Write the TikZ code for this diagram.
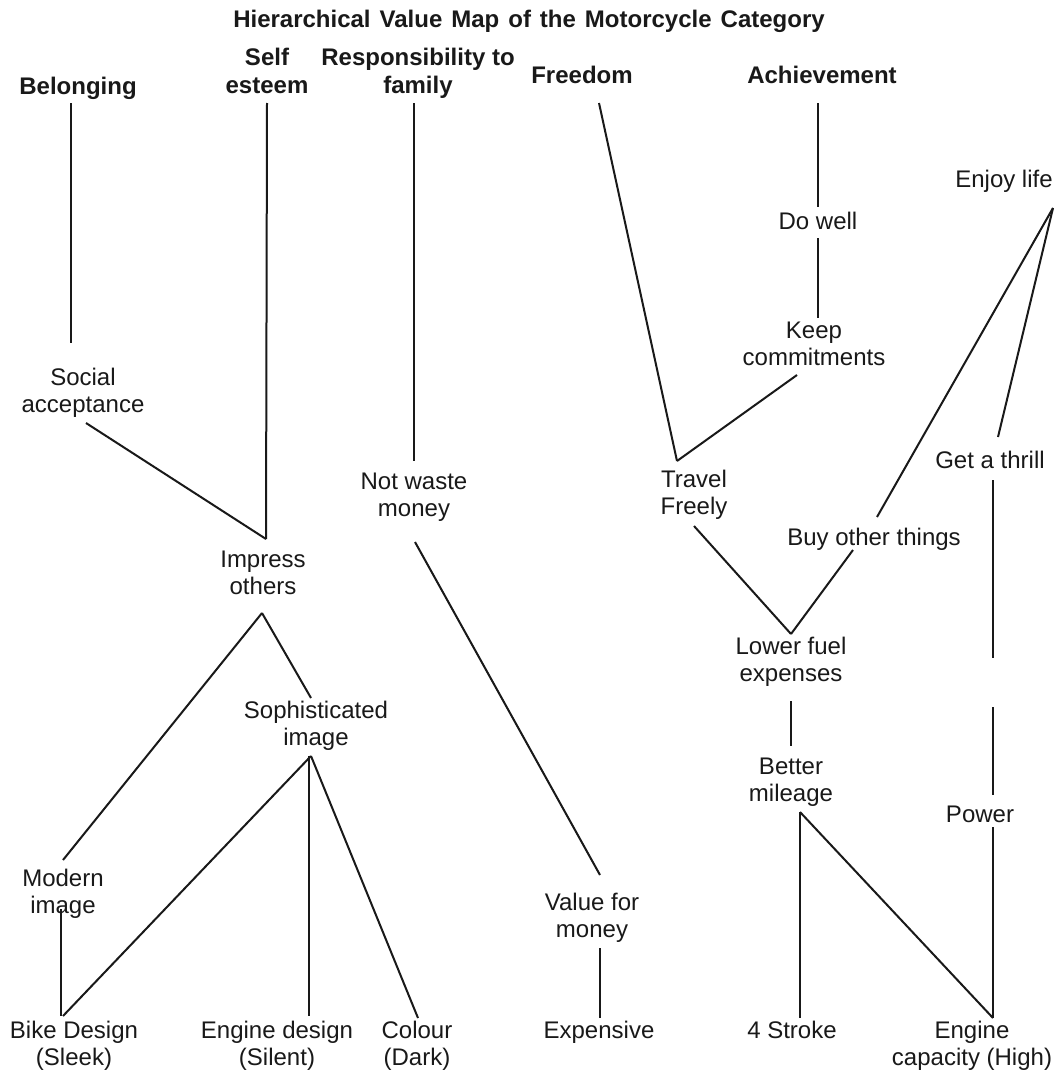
\documentclass[tikz,border=0pt]{standalone}
\usepackage{fontspec}
\setmainfont{Liberation Sans}
\begin{document}
\begin{tikzpicture}[x=1pt,y=-1pt,
  lbl/.style={anchor=base, inner sep=0pt, align=center, text=black!90,
    font=\fontsize{24}{27.5}\selectfont},
  hd/.style={lbl, font=\bfseries\fontsize{24}{28}\selectfont},
  con/.style={draw=black!90, line width=2pt}]
\useasboundingbox[fill=white] (0,0) rectangle (1060,1073);

% title
\node[hd] (title) at (529,27.5) {\spaceskip=9pt plus 1pt\relax Hierarchical Value Map of the Motorcycle Category};

% headings (values); for two-line nodes the base anchor is the last line's baseline
\node[hd] (belong) at (78,94) {Belonging};
\node[hd] (self) at (267,93.5) {Self\\esteem};
\node[hd] (resp) at (418,93.5) {Responsibility to\\family};
\node[hd] (free) at (582,83) {Freedom};
\node[hd] (ach) at (822,83) {Achievement};

% other labels
\node[lbl] (enjoy) at (1004,187) {Enjoy life};
\node[lbl] (dowell) at (818,229) {Do well};
\node[lbl] (keep) at (814,365.5) {Keep\\commitments};
\node[lbl] (social) at (83,412.5) {Social\\acceptance};
\node[lbl] (getthrill) at (990,468) {Get a thrill};
\node[lbl] (notwaste) at (414,516.5) {Not waste\\money};
\node[lbl] (travel) at (694,514.5) {Travel\\Freely};
\node[lbl] (buy) at (874,545) {Buy other things};
\node[lbl] (impress) at (263,594.5) {Impress\\others};
\node[lbl] (lowfuel) at (791,681.5) {Lower fuel\\expenses};
\node[lbl] (soph) at (316,745.5) {Sophisticated\\image};
\node[lbl] (better) at (791,801.5) {Better\\mileage};
\node[lbl] (power) at (980,822) {Power};
\node[lbl] (modern) at (63,913.5) {Modern\\image};
\node[lbl] (value) at (592,937.5) {Value for\\money};
\node[lbl] (bike) at (74,1065.5) {Bike Design\\(Sleek)};
\node[lbl] (engd) at (277,1065.5) {Engine design\\(Silent)};
\node[lbl] (colour) at (417,1065.5) {Colour\\(Dark)};
\node[lbl] (exp) at (599,1038) {Expensive};
\node[lbl] (stroke) at (792,1038) {4 Stroke};
\node[lbl] (engcap) at (972,1065.5) {Engine\\capacity (High)};

% connectors
\draw[con] ([xshift=-7pt,yshift=-9pt]belong.base) -- ([xshift=-12pt,yshift=69.5pt]social.base);
\draw[con] ([xshift=0pt,yshift=-9.5pt]self.base) -- ([xshift=3pt,yshift=55.5pt]impress.base);
\draw[con] ([xshift=3pt,yshift=-10.5pt]social.base) -- ([xshift=3pt,yshift=55.5pt]impress.base);
\draw[con] ([xshift=-4pt,yshift=-9.5pt]resp.base) -- ([xshift=0pt,yshift=55.5pt]notwaste.base);
\draw[con] ([xshift=1pt,yshift=-25.5pt]notwaste.base) -- ([xshift=8pt,yshift=62.5pt]value.base);
\draw[con] ([xshift=17pt,yshift=-20pt]free.base) -- ([xshift=-17pt,yshift=53.5pt]travel.base);
\draw[con] ([xshift=-4pt,yshift=-20pt]ach.base) -- ([xshift=0pt,yshift=22pt]dowell.base);
\draw[con] ([xshift=0pt,yshift=-9pt]dowell.base) -- ([xshift=4pt,yshift=47.5pt]keep.base);
\draw[con] ([xshift=-17pt,yshift=-9.5pt]keep.base) -- ([xshift=-17pt,yshift=53.5pt]travel.base);
\draw[con] ([xshift=49pt,yshift=-21pt]enjoy.base) -- ([xshift=3pt,yshift=28pt]buy.base);
\draw[con] ([xshift=49pt,yshift=-21pt]enjoy.base) -- ([xshift=8pt,yshift=31pt]getthrill.base);
\draw[con] ([xshift=3pt,yshift=-12pt]getthrill.base) -- ([xshift=13pt,yshift=164pt]power.base)
           ([xshift=13pt,yshift=115pt]power.base) -- ([xshift=13pt,yshift=27pt]power.base);
\draw[con] ([xshift=0pt,yshift=-11.5pt]travel.base) -- ([xshift=0pt,yshift=47.5pt]lowfuel.base);
\draw[con] ([xshift=-21pt,yshift=-5pt]buy.base) -- ([xshift=0pt,yshift=47.5pt]lowfuel.base);
\draw[con] ([xshift=0pt,yshift=-19.5pt]lowfuel.base) -- ([xshift=0pt,yshift=55.5pt]better.base);
\draw[con] ([xshift=9pt,yshift=-10.5pt]better.base) -- ([xshift=8pt,yshift=20pt]stroke.base);
\draw[con] ([xshift=9pt,yshift=-10.5pt]better.base) -- ([xshift=21pt,yshift=47.5pt]engcap.base);
\draw[con] ([xshift=13pt,yshift=-5pt]power.base) -- ([xshift=21pt,yshift=47.5pt]engcap.base);
\draw[con] ([xshift=-1pt,yshift=-18.5pt]impress.base) -- ([xshift=0pt,yshift=53.5pt]modern.base);
\draw[con] ([xshift=-1pt,yshift=-18.5pt]impress.base) -- ([xshift=-5pt,yshift=47.5pt]soph.base);
\draw[con] ([xshift=-5pt,yshift=-10.5pt]soph.base) -- ([xshift=-11pt,yshift=49.5pt]bike.base);
\draw[con] ([xshift=-7pt,yshift=-10.5pt]soph.base) -- ([xshift=32pt,yshift=49.5pt]engd.base);
\draw[con] ([xshift=-5pt,yshift=-10.5pt]soph.base) -- ([xshift=1pt,yshift=47.5pt]colour.base);
\draw[con] ([xshift=-2pt,yshift=4.5pt]modern.base) -- ([xshift=-13pt,yshift=49.5pt]bike.base);
\draw[con] ([xshift=8pt,yshift=-10.5pt]value.base) -- ([xshift=1pt,yshift=20pt]exp.base);
\end{tikzpicture}
\end{document}
